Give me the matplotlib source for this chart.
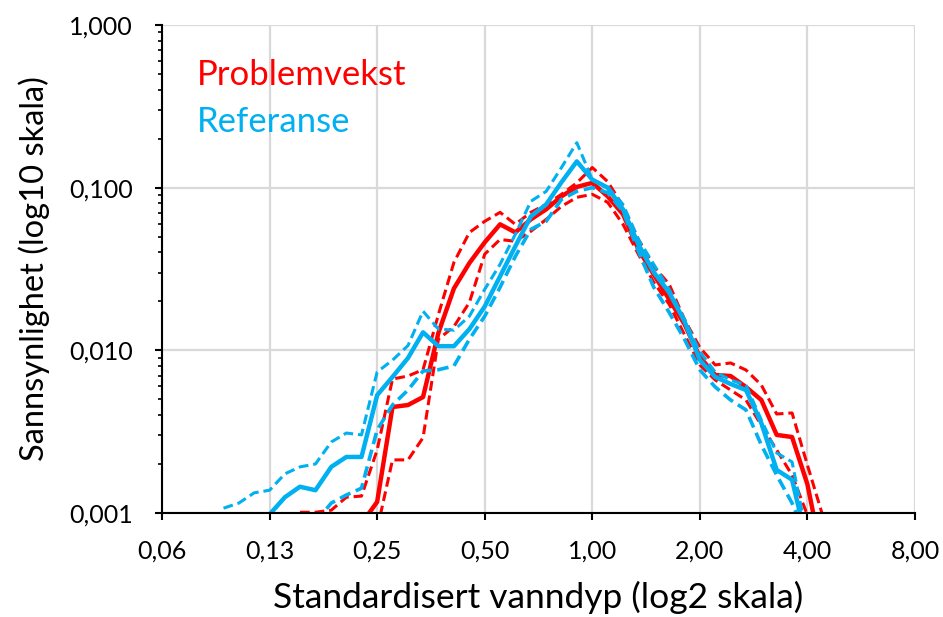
import numpy as np
import matplotlib
matplotlib.use("Agg")
import matplotlib.pyplot as plt
from matplotlib.ticker import FixedLocator, FixedFormatter, LogLocator, NullFormatter

# standardised water depth (bin centres)
depth = [0.0929, 0.1025, 0.1132, 0.125, 0.138, 0.152, 0.168, 0.186, 0.205, 0.226,
         0.250, 0.276, 0.305, 0.336, 0.371, 0.410, 0.453, 0.500, 0.552, 0.609,
         0.673, 0.743, 0.820, 0.905, 1.000, 1.104, 1.219, 1.346, 1.486, 1.641,
         1.811, 2.000, 2.208, 2.438, 2.692, 2.972, 3.281, 3.623, 4.000, 4.416]

N = None
problem_mid = [N, N, N, N, N, N, N, N, N, 0.00086,
               0.00117, 0.00448, 0.00461, 0.00516, 0.0128, 0.024, 0.0344, 0.0461, 0.0595, 0.0531,
               0.0638, 0.0736, 0.0885, 0.101, 0.107, 0.0885, 0.0686, 0.0418, 0.0293, 0.0206,
               0.0145, 0.0091, 0.00705, 0.00695, 0.00595, 0.00495, 0.00302, 0.00293, 0.0015, 0.00051]
problem_hi = [N, N, N, N, N, 0.00101, 0.00101, 0.00104, 0.00125, 0.00127,
              0.00244, 0.00666, 0.00695, 0.0076, 0.0166, 0.0347, 0.053, 0.0621, 0.0705, 0.0595,
              0.0705, 0.0789, 0.091, 0.107, 0.133, 0.109, 0.077, 0.0481, 0.0328, 0.0255,
              0.0155, 0.0104, 0.00813, 0.00836, 0.00757, 0.00612, 0.00406, 0.00412, 0.00197, 0.00096]
problem_lo = [N, N, N, N, N, N, N, N, N, N,
              0.00079, 0.00212, 0.00212, 0.0029, 0.0117, 0.014, 0.0197, 0.039, 0.048, 0.0468,
              0.0539, 0.0638, 0.0767, 0.0872, 0.091, 0.0813, 0.0595, 0.0389, 0.0262, 0.0192,
              0.0125, 0.00813, 0.00657, 0.0057, 0.00495, 0.00346, 0.00244, 0.00171, 0.00097, N]

ref_mid = [N, N, N, 0.00098, 0.00125, 0.00145, 0.00138, 0.00192, 0.00221, 0.00221,
           0.0053, 0.00686, 0.00897, 0.0129, 0.0106, 0.0106, 0.0135, 0.0186, 0.0285, 0.0436,
           0.0666, 0.0789, 0.108, 0.145, 0.112, 0.100, 0.0736, 0.0448, 0.0302, 0.0227,
           0.0151, 0.00872, 0.00686, 0.00621, 0.0057, 0.00357, 0.00184, 0.0016, 0.00064, N]
ref_hi = [0.00107, 0.00115, 0.00133, 0.00138, 0.00174, 0.00192, 0.0020, 0.00273, 0.0031, 0.00302,
          0.00736, 0.0087, 0.0107, 0.0174, 0.0135, 0.0133, 0.0162, 0.0237, 0.0338, 0.0516,
          0.0824, 0.0949, 0.133, 0.189, 0.112, 0.101, 0.0789, 0.0481, 0.0338, 0.0237,
          0.0155, 0.0098, 0.00736, 0.00657, 0.00612, 0.00373, 0.00234, 0.00206, 0.0007, N]
ref_lo = [N, N, N, N, N, N, 0.00088, 0.00115, 0.00129, 0.00142,
          0.00324, 0.00461, 0.0057, 0.00746, 0.0076, 0.00801, 0.0117, 0.0162, 0.0244, 0.0378,
          0.0554, 0.0621, 0.0847, 0.0949, 0.100, 0.093, 0.0715, 0.0406, 0.0244, 0.0171,
          0.0117, 0.00757, 0.00595, 0.00495, 0.0043, 0.00262, 0.00171, 0.00115, 0.00068, N]

x_ticks = [0.0625, 0.125, 0.25, 0.5, 1, 2, 4, 8]
x_labels = ["0,06", "0,13", "0,25", "0,50", "1,00", "2,00", "4,00", "8,00"]
y_ticks = [0.001, 0.01, 0.1, 1]
y_labels = ["0,001", "0,010", "0,100", "1,000"]

RED = "#FF0000"
BLUE = "#00B0F0"

plt.rcParams['font.family'] = ['Lato', 'DejaVu Sans']

def arr(v):
    return np.array([np.nan if a is None else a for a in v], dtype=float)

fig = plt.figure(figsize=(9.43, 6.17), dpi=100)
ax = fig.add_axes([0.1718, 0.1686, 0.7985, 0.7909])

x = np.array(depth)
dash = (3.2, 1.6)
ax.plot(x, arr(problem_hi), color=RED, lw=2.2, dashes=dash)
ax.plot(x, arr(problem_lo), color=RED, lw=2.2, dashes=dash)
ax.plot(x, arr(problem_mid), color=RED, lw=3.2)
ax.plot(x, arr(ref_hi), color=BLUE, lw=2.2, dashes=dash)
ax.plot(x, arr(ref_lo), color=BLUE, lw=2.6, dashes=dash)
ax.plot(x, arr(ref_mid), color=BLUE, lw=3.2)

ax.set_xscale('log', base=2)
ax.set_yscale('log')
ax.set_xlim(0.0625, 8)
ax.set_ylim(0.001, 1)

ax.xaxis.set_major_locator(FixedLocator(x_ticks))
ax.xaxis.set_major_formatter(FixedFormatter(x_labels))
ax.xaxis.set_minor_locator(FixedLocator([]))
ax.yaxis.set_major_locator(FixedLocator(y_ticks))
ax.yaxis.set_major_formatter(FixedFormatter(y_labels))
ax.yaxis.set_minor_locator(LogLocator(base=10, subs=np.arange(2, 10)))
ax.yaxis.set_minor_formatter(NullFormatter())

ax.grid(True, which='major', color='#D9D9D9', lw=1.6)
ax.set_axisbelow(True)
for s in ['top', 'right']:
    ax.spines[s].set_visible(False)
for s in ['left', 'bottom']:
    ax.spines[s].set_linewidth(1.5)
    ax.spines[s].set_zorder(5)

ax.tick_params(axis='both', which='major', length=5, width=1.5, labelsize=18, color='black')
ax.tick_params(axis='x', which='major', pad=14)
ax.tick_params(axis='y', which='major', pad=16)
ax.tick_params(axis='y', which='minor', length=3, width=1.2)

ax.set_xlabel("Standardisert vanndyp (log2 skala)", fontsize=25.5, labelpad=13)
ax.set_ylabel("Sannsynlighet (log10 skala)", fontsize=23.5, labelpad=14)

ax.text(0.046, 0.898, "Problemvekst", color=RED, fontsize=25, transform=ax.transAxes, va='center')
ax.text(0.046, 0.801, "Referanse", color=BLUE, fontsize=25, transform=ax.transAxes, va='center')

fig.savefig("out.png", dpi=100)
